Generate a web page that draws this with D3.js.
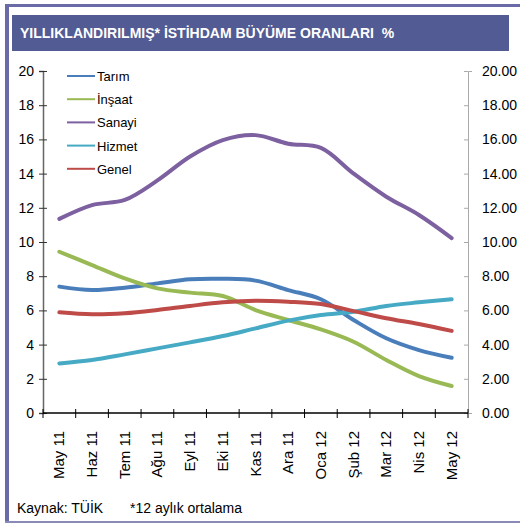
<!DOCTYPE html>
<html>
<head>
<meta charset="utf-8">
<script src="https://cdn.jsdelivr.net/npm/d3@7"></script>
<style>
  body { margin: 0; background: #fff; }
  text { font-family: Arial, "Liberation Sans", sans-serif; }
</style>
</head>
<body>
<div id="chart"></div>
<script>
var months = ["May 11","Haz 11","Tem 11","Ağu 11","Eyl 11","Eki 11","Kas 11","Ara 11","Oca 12","Şub 12","Mar 12","Nis 12","May 12"];
var tarim  = [7.39, 7.19, 7.33, 7.58, 7.82, 7.85, 7.74, 7.19, 6.65, 5.44, 4.37, 3.68, 3.23];
var insaat = [9.43, 8.65, 7.87, 7.29, 7.04, 6.84, 6.02, 5.44, 4.89, 4.17, 3.10, 2.16, 1.58];
var sanayi = [11.35, 12.16, 12.46, 13.6, 15.0, 15.96, 16.25, 15.75, 15.5, 14.0, 12.65, 11.58, 10.23];
var hizmet = [2.90, 3.10, 3.43, 3.78, 4.13, 4.50, 4.95, 5.40, 5.73, 5.92, 6.26, 6.47, 6.65];
var genel  = [5.89, 5.77, 5.83, 6.02, 6.26, 6.47, 6.57, 6.51, 6.37, 5.96, 5.54, 5.20, 4.80];
var yTicks = [0, 2, 4, 6, 8, 10, 12, 14, 16, 18, 20];

var series = [
  {name: "Tarım",  values: tarim,  color: "#4a7ebb"},
  {name: "İnşaat", values: insaat, color: "#98b954"},
  {name: "Sanayi", values: sanayi, color: "#7d60a0"},
  {name: "Hizmet", values: hizmet, color: "#46aac5"},
  {name: "Genel",  values: genel,  color: "#be4b48"}
];

var W = 520, H = 524;
var svg = d3.select("#chart").append("svg")
    .attr("width", W)
    .attr("height", H);

// frame
svg.append("line").attr("x1", 5).attr("x2", W).attr("y1", 5.5).attr("y2", 5.5)
    .attr("stroke", "#6a6aa6").attr("stroke-width", 3);
svg.append("line").attr("x1", 7).attr("x2", 7).attr("y1", 4).attr("y2", 523)
    .attr("stroke", "#6a6aa6").attr("stroke-width", 4);
svg.append("line").attr("x1", 5).attr("x2", W).attr("y1", 522).attr("y2", 522)
    .attr("stroke", "#8a8ab8").attr("stroke-width", 2);

// title bar
svg.append("rect").attr("x", 12).attr("y", 15).attr("width", 497).attr("height", 36)
    .attr("fill", "#525b94");
svg.append("text").attr("x", 20).attr("y", 38)
    .attr("fill", "#fff").style("font-size", "14px").style("font-weight", "bold")
    .text("YILLIKLANDIRILMIŞ* İSTİHDAM BÜYÜME ORANLARI\u00a0\u00a0%");

var mLeft = 43, mRight = 468, mTop = 71, mBottom = 413;

var x = d3.scaleBand().domain(months).range([mLeft, mRight]);
var y = d3.scaleLinear().domain([0, 20]).range([mBottom, mTop]);

// left axis
var gl = svg.append("g").attr("transform", "translate(" + mLeft + ",0)")
    .call(d3.axisLeft(y).tickValues(yTicks).tickSize(4).tickPadding(5));
gl.select(".domain").attr("stroke", "#666").attr("stroke-width", 1.5);
gl.selectAll(".tick line").attr("x2", 4).attr("x1", -4).attr("stroke", "#333");
gl.selectAll("text").style("font-size", "14px").attr("fill", "#000");

// right axis
var gr = svg.append("g").attr("transform", "translate(" + mRight + ",0)")
    .call(d3.axisRight(y).tickValues(yTicks).tickFormat(d3.format(".2f")).tickSize(4).tickPadding(10));
gr.select(".domain").attr("stroke", "#aaa");
gr.selectAll(".tick line").attr("x1", -4).attr("x2", 0).attr("stroke", "#aaa");
gr.selectAll("text").style("font-size", "14px").attr("fill", "#000");

// x axis
var tickPos = months.map(function(m) { return x(m); }).concat([mRight]);
var gx = svg.append("g").attr("transform", "translate(0," + mBottom + ")");
gx.append("line").attr("x1", mLeft).attr("x2", mRight).attr("stroke", "#000").attr("stroke-width", 1.5);
gx.selectAll(".xt").data(tickPos).enter().append("line")
    .attr("x1", function(d) { return d; }).attr("x2", function(d) { return d; })
    .attr("y1", -4).attr("y2", 5).attr("stroke", "#000");
gx.selectAll(".xl").data(months).enter().append("text")
    .attr("transform", function(d) {
      return "translate(" + (x(d) + x.bandwidth() / 2 + 5) + ",18) rotate(-90)";
    })
    .style("text-anchor", "end")
    .style("font-size", "15px")
    .text(function(d) { return d; });

// lines
var line = d3.line()
    .x(function(d, i) { return x(months[i]) + x.bandwidth() / 2; })
    .y(function(d) { return y(d); })
    .curve(d3.curveCatmullRom.alpha(0.5));

svg.selectAll(".series").data(series).enter().append("path")
    .attr("fill", "none")
    .attr("stroke", function(d) { return d.color; })
    .attr("stroke-width", 4)
    .attr("stroke-linecap", "round")
    .attr("d", function(d) { return line(d.values); });

// legend
var lg = svg.selectAll(".lg").data(series).enter().append("g")
    .attr("transform", function(d, i) { return "translate(67," + (76 + i * 23.2) + ")"; });
lg.append("line").attr("x1", 0).attr("x2", 28)
    .attr("stroke", function(d) { return d.color; }).attr("stroke-width", 2);
lg.append("text").attr("x", 30).attr("y", 5)
    .style("font-size", "13px")
    .text(function(d) { return d.name; });

// footer
svg.append("text").attr("x", 17).attr("y", 513).style("font-size", "14px").text("Kaynak: TÜİK");
svg.append("text").attr("x", 130).attr("y", 513).style("font-size", "14px").text("*12 aylık ortalama");
</script>
</body>
</html>
